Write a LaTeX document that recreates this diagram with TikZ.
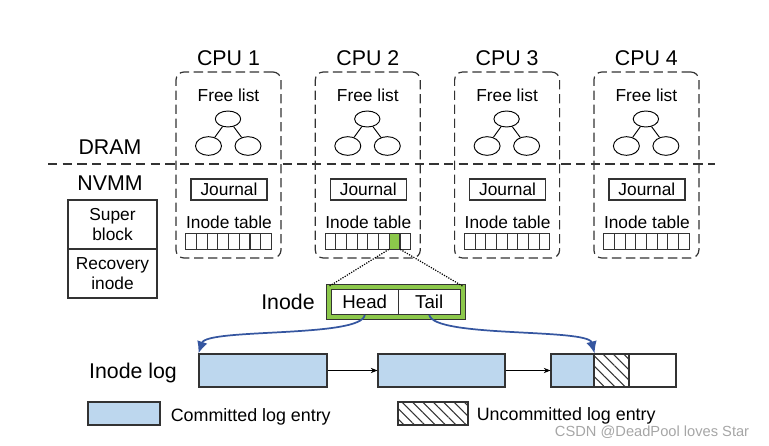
\documentclass[tikz,border=0pt]{standalone}
\usepackage{fontspec}
\setmainfont{Liberation Sans}
\usetikzlibrary{shapes.geometric, arrows.meta, patterns.meta}
\definecolor{logblue}{HTML}{BDD7EE}
\definecolor{ptrblue}{HTML}{3556A0}
\definecolor{inodegreen}{HTML}{8CC84B}
\definecolor{edgegray}{HTML}{333333}

\begin{document}
\begin{tikzpicture}[x=0.75pt,y=-0.75pt,>={Stealth[length=5pt,width=4pt]},semithick]
  \tikzstyle{big}=[font=\fontsize{16}{18}\selectfont]
  \tikzstyle{mid}=[font=\fontsize{13}{15}\selectfont]
  \tikzstyle{cpubox}=[draw=edgegray, dash pattern=on 7pt off 3.5pt, rounded corners=6pt,
    line width=0.9pt, minimum width=78.75pt, minimum height=139.5pt]
  \tikzstyle{leaf}=[ellipse, draw, inner sep=0pt, line width=0.7pt]
  \tikzstyle{cell}=[draw=edgegray, line width=0.6pt, inner sep=0pt,
    minimum width=8pt, minimum height=12pt]
  \tikzstyle{entry}=[draw=edgegray, line width=0.9pt, inner sep=0pt, minimum height=24.75pt]
  \tikzstyle{ptr}=[->, >={Latex[length=9pt,width=8pt]}, draw=ptrblue, line width=1.3pt]
  \tikzstyle{hatch}=[pattern={Lines[angle=-45,distance=5.5pt,line width=0.8pt]},
    pattern color=edgegray]

  \useasboundingbox (0,0) rectangle (769,446);

  % per-CPU structures
  \foreach \i in {1,...,4} {
    \pgfmathsetmacro{\cx}{228.5+139.3*(\i-1)}
    \node[cpubox] (C\i) at (\cx,165) {};
    \node[big] (CL\i) at (\cx,58) {CPU \i};
    \node[mid] (FT\i) at (\cx,95.5) {Free list};
    \node[leaf, minimum width=19pt, minimum height=12pt] (F\i) at (\cx-0.5,119) {};
    \node[leaf, minimum width=19.5pt, minimum height=14pt] (FL\i) at (\cx-20,146) {};
    \node[leaf, minimum width=19.5pt, minimum height=14pt] (FR\i) at (\cx+19.5,146) {};
    \draw[line width=0.7pt] (F\i) -- (FL\i);
    \draw[line width=0.7pt] (F\i) -- (FR\i);
    \node[mid, draw=edgegray, line width=0.9pt, minimum width=57pt, minimum height=15.75pt,
      inner sep=0pt] (J\i) at (\cx+0.5,189.5) {Journal};
    \node[mid] (IT\i) at (\cx+0.5,222.5) {Inode table};
    \foreach \k in {1,...,8}
      \node[cell] (T\i-\k) at ({\cx-42.8+10.7*(\k-0.5)},241) {};
  }
  \node[cell, fill=inodegreen] (G) at (T2-7) {};

  % DRAM / NVMM split
  \draw[edgegray, line width=0.9pt, dash pattern=on 7pt off 4pt] (48,164) -- (715,164);
  \node[big] (DRAM) at (110,147) {DRAM};
  \node[big] (NVMM) at (110,183) {NVMM};

  \node[mid, draw=edgegray, line width=0.9pt, minimum width=66.75pt, minimum height=36.75pt,
    align=center, inner sep=0pt, font=\fontsize{13}{15.5}\selectfont] (SB) at (112.5,224.5) {Super\\block};
  \node[mid, draw=edgegray, line width=0.9pt, minimum width=66.75pt, minimum height=36.75pt,
    align=center, inner sep=0pt, font=\fontsize{13}{15.5}\selectfont] (RI) at (112.5,273.5) {Recovery\\inode};

  % inode
  \node[big] (INL) at (288,302) {Inode};
  \node[draw=edgegray, double=inodegreen, double distance=2.6pt, line width=0.6pt,
    minimum width=100.5pt, minimum height=22.5pt, inner sep=0pt] (IN) at (396,302) {};
  \node[draw=edgegray, line width=0.6pt, minimum width=49.9pt, minimum height=18.75pt,
    inner sep=0pt, font=\fontsize{14}{16}\selectfont] (Head) at (364.75,302) {Head};
  \node[draw=edgegray, line width=0.6pt, minimum width=46.9pt, minimum height=18.75pt,
    inner sep=0pt, font=\fontsize{14}{16}\selectfont] (Tail) at (429.25,302) {Tail};
  \draw[densely dotted, line width=0.9pt] (G.south west) -- (IN.north west);
  \draw[densely dotted, line width=0.9pt] (G.south east) -- (IN.north east);

  % inode log
  \node[big] (LOG) at (133,373) {Inode log};
  \node[entry, fill=logblue, minimum width=96pt] (L1) at (263,370.5) {};
  \node[entry, fill=logblue, minimum width=95.25pt] (L2) at (441.5,370.5) {};
  \node[entry, fill=logblue, minimum width=32.25pt] (L3) at (572.5,370.5) {};
  \node[entry, hatch, minimum width=26.25pt] (L3h) at (611.5,370.5) {};
  \node[entry, minimum width=35.25pt] (L3w) at (652.5,370.5) {};

  \draw[->, line width=0.6pt] (L1.east) -- (L2.west);
  \draw[->, line width=0.6pt] (L2.east) -- (L3.west);
  \draw[ptr] (Head.south) .. controls (362,338) and (207,328) .. (L1.north west);
  \draw[ptr] (Tail.south) .. controls (434,338) and (588,328) .. (L3.north east);

  % legend
  \node[entry, fill=logblue, minimum width=54pt, minimum height=17.25pt] (KC) at (124,413.5) {};
  \node[anchor=west, font=\fontsize{13.4}{15}\selectfont] (KCT) at (166,417) {Committed log entry};
  \node[entry, hatch, minimum width=52.5pt, minimum height=17.25pt] (KU) at (433,413.5) {};
  \node[anchor=west, font=\fontsize{13.4}{15}\selectfont] (KUT) at (472,416) {Uncommitted log entry};

  \node[anchor=east, text=gray!70, font=\fontsize{11}{13}\selectfont] (WM) at (754,432) {CSDN @DeadPool loves Star};
\end{tikzpicture}
\end{document}
